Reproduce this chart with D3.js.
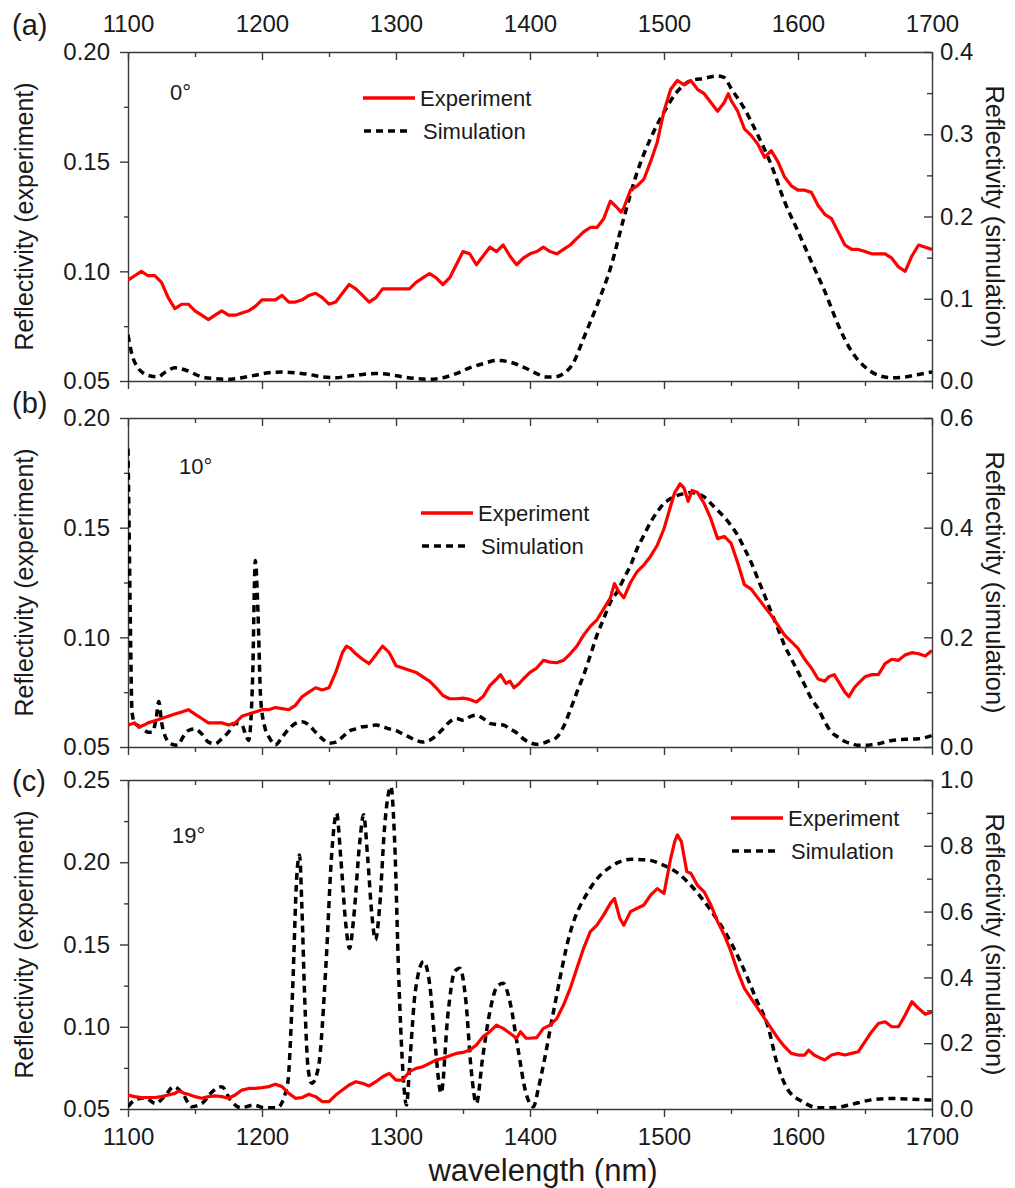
<!DOCTYPE html>
<html>
<head>
<meta charset="utf-8">
<script src="https://cdn.jsdelivr.net/npm/d3@7/dist/d3.min.js"></script>
<style>
  body { margin: 0; background: #fff; }
  text { font-family: "Liberation Sans", Arial, sans-serif; fill: #1a1a1a; }
</style>
</head>
<body>
<svg id="chart" width="1015" height="1188"></svg>
<script>
// ---- data ----
const xTicks = [1100, 1200, 1300, 1400, 1500, 1600, 1700];
const angleLabels = ["0°", "10°", "19°"];
const panelLetters = ["(a)", "(b)", "(c)"];
const seriesNames = ["Experiment", "Simulation"];

const leftTicksA = [0.05, 0.10, 0.15, 0.20];
const rightTicksA = [0.0, 0.1, 0.2, 0.3, 0.4];
const leftTicksB = [0.05, 0.10, 0.15, 0.20];
const rightTicksB = [0.0, 0.2, 0.4, 0.6];
const leftTicksC = [0.05, 0.10, 0.15, 0.20, 0.25];
const rightTicksC = [0.0, 0.2, 0.4, 0.6, 0.8, 1.0];

// [wavelength nm, reflectivity]
const expA = [[1100,0.096],[1105,0.098],[1110,0.100],[1115,0.098],[1120,0.098],[1125,0.095],[1130,0.088],[1135,0.083],[1140,0.085],[1145,0.085],
  [1150,0.082],[1155,0.080],[1160,0.078],[1165,0.080],[1170,0.082],[1175,0.080],[1180,0.080],[1185,0.081],[1190,0.082],[1195,0.084],
  [1200,0.087],[1205,0.087],[1210,0.087],[1215,0.089],[1220,0.086],[1225,0.086],[1230,0.087],[1235,0.089],[1240,0.090],[1245,0.088],
  [1250,0.085],[1255,0.086],[1260,0.090],[1265,0.094],[1270,0.092],[1275,0.089],[1280,0.086],[1285,0.088],[1290,0.092],[1295,0.092],
  [1300,0.092],[1305,0.092],[1310,0.092],[1315,0.095],[1320,0.097],[1325,0.099],[1330,0.097],[1335,0.094],[1340,0.097],[1345,0.103],
  [1350,0.109],[1355,0.108],[1360,0.103],[1365,0.107],[1370,0.111],[1375,0.109],[1380,0.112],[1385,0.107],[1390,0.103],[1395,0.106],
  [1400,0.108],[1405,0.109],[1410,0.111],[1415,0.109],[1420,0.108],[1425,0.110],[1430,0.112],[1435,0.115],[1440,0.118],[1445,0.120],
  [1450,0.120],[1455,0.124],[1460,0.132],[1465,0.129],[1468,0.127],[1470,0.129],[1475,0.137],[1480,0.139],[1485,0.142],[1490,0.150],
  [1495,0.159],[1500,0.173],[1505,0.183],[1510,0.187],[1515,0.185],[1520,0.187],[1525,0.183],[1530,0.181],[1535,0.177],[1540,0.173],
  [1545,0.177],[1548,0.181],[1550,0.178],[1555,0.173],[1560,0.165],[1565,0.162],[1570,0.158],[1575,0.152],[1580,0.155],[1585,0.150],
  [1590,0.143],[1595,0.139],[1600,0.137],[1605,0.137],[1610,0.136],[1615,0.130],[1620,0.126],[1625,0.124],[1630,0.118],[1635,0.112],
  [1640,0.110],[1645,0.110],[1650,0.109],[1655,0.108],[1660,0.108],[1665,0.108],[1670,0.106],[1675,0.102],[1680,0.100],[1685,0.107],
  [1690,0.112],[1695,0.111],[1700,0.110]];

const simA = [[1100,0.056],[1103,0.032],[1107,0.017],[1112,0.009],[1117,0.006],[1122,0.005],[1128,0.011],[1135,0.016],[1145,0.012],[1155,0.005],
  [1165,0.003],[1175,0.002],[1185,0.004],[1195,0.007],[1205,0.010],[1215,0.011],[1225,0.010],[1235,0.008],[1245,0.005],[1255,0.004],
  [1265,0.006],[1275,0.008],[1285,0.009],[1295,0.008],[1305,0.005],[1315,0.003],[1325,0.002],[1335,0.004],[1345,0.009],[1355,0.016],
  [1365,0.021],[1375,0.025],[1385,0.023],[1395,0.017],[1405,0.009],[1412,0.005],[1418,0.005],[1425,0.009],[1432,0.021],[1440,0.052],
  [1450,0.092],[1460,0.137],[1470,0.198],[1480,0.254],[1490,0.295],[1500,0.327],[1510,0.352],[1520,0.365],[1530,0.368],[1540,0.371],
  [1545,0.369],[1550,0.356],[1560,0.331],[1570,0.299],[1580,0.263],[1590,0.218],[1600,0.182],[1610,0.145],[1620,0.109],[1630,0.068],
  [1640,0.036],[1650,0.017],[1660,0.007],[1670,0.004],[1680,0.005],[1690,0.008],[1700,0.011]];

const expB = [[1100,0.060],[1105,0.061],[1108,0.059],[1112,0.060],[1115,0.061],[1120,0.062],[1125,0.063],[1130,0.064],[1135,0.065],[1140,0.066],
  [1145,0.067],[1150,0.065],[1155,0.063],[1160,0.061],[1165,0.061],[1170,0.061],[1175,0.060],[1180,0.061],[1185,0.064],[1190,0.065],
  [1195,0.066],[1200,0.067],[1205,0.067],[1210,0.068],[1215,0.0675],[1220,0.067],[1225,0.069],[1230,0.073],[1235,0.075],[1240,0.077],
  [1245,0.076],[1250,0.077],[1255,0.084],[1260,0.093],[1263,0.096],[1266,0.095],[1270,0.0925],[1275,0.090],[1280,0.088],[1285,0.092],
  [1290,0.096],[1295,0.093],[1300,0.087],[1305,0.086],[1310,0.085],[1315,0.084],[1320,0.082],[1325,0.080],[1330,0.077],[1335,0.0735],
  [1340,0.072],[1345,0.072],[1350,0.0723],[1355,0.0717],[1360,0.0705],[1365,0.073],[1370,0.078],[1375,0.081],[1378,0.083],[1382,0.079],
  [1385,0.080],[1388,0.077],[1392,0.079],[1395,0.081],[1400,0.084],[1405,0.086],[1410,0.0895],[1415,0.0887],[1420,0.0884],[1425,0.0895],
  [1430,0.0925],[1435,0.096],[1440,0.101],[1445,0.105],[1450,0.108],[1455,0.113],[1460,0.118],[1463,0.1245],[1466,0.121],[1470,0.118],
  [1475,0.125],[1480,0.130],[1485,0.133],[1490,0.137],[1495,0.142],[1500,0.1495],[1505,0.160],[1508,0.166],[1512,0.170],[1515,0.168],
  [1518,0.162],[1521,0.167],[1525,0.166],[1530,0.161],[1535,0.154],[1540,0.145],[1545,0.146],[1550,0.143],[1555,0.134],[1560,0.124],
  [1565,0.122],[1570,0.118],[1575,0.114],[1580,0.110],[1585,0.1055],[1590,0.101],[1595,0.098],[1600,0.095],[1605,0.090],[1610,0.086],
  [1615,0.081],[1620,0.080],[1623,0.082],[1627,0.083],[1630,0.080],[1635,0.075],[1638,0.073],[1642,0.077],[1645,0.079],[1650,0.082],
  [1655,0.083],[1660,0.083],[1665,0.088],[1670,0.090],[1675,0.0895],[1680,0.092],[1685,0.093],[1690,0.0925],[1695,0.0915],[1700,0.094]];

const simB = [[1100,0.544],[1101,0.368],[1102,0.185],[1103,0.064],[1105,0.043],[1110,0.036],[1115,0.027],[1118,0.027],[1121,0.052],[1123,0.083],
  [1125,0.046],[1128,0.018],[1132,0.006],[1137,0.003],[1141,0.018],[1145,0.030],[1150,0.033],[1155,0.024],[1160,0.009],[1165,0.006],
  [1170,0.015],[1175,0.027],[1180,0.043],[1185,0.040],[1188,0.021],[1190,0.012],[1193,0.125],[1195,0.340],[1197,0.246],[1199,0.088],
  [1202,0.037],[1206,0.015],[1210,0.004],[1215,0.018],[1220,0.033],[1225,0.043],[1230,0.046],[1235,0.040],[1240,0.027],[1245,0.015],
  [1250,0.007],[1255,0.009],[1260,0.018],[1265,0.029],[1270,0.033],[1275,0.037],[1280,0.038],[1285,0.040],[1290,0.037],[1295,0.033],
  [1300,0.030],[1305,0.024],[1310,0.018],[1315,0.012],[1320,0.009],[1325,0.012],[1330,0.021],[1335,0.033],[1340,0.046],[1345,0.052],
  [1350,0.049],[1355,0.055],[1360,0.058],[1365,0.052],[1370,0.043],[1375,0.041],[1380,0.040],[1385,0.033],[1390,0.026],[1395,0.015],
  [1400,0.008],[1405,0.005],[1410,0.007],[1415,0.012],[1420,0.018],[1425,0.037],[1430,0.067],[1435,0.100],[1440,0.131],[1445,0.167],
  [1450,0.204],[1455,0.234],[1460,0.264],[1465,0.283],[1470,0.307],[1475,0.331],[1480,0.362],[1485,0.386],[1490,0.410],[1495,0.429],
  [1500,0.444],[1505,0.453],[1510,0.459],[1515,0.462],[1520,0.464],[1525,0.462],[1530,0.456],[1535,0.444],[1540,0.432],[1545,0.419],
  [1550,0.404],[1555,0.386],[1560,0.362],[1565,0.337],[1570,0.307],[1575,0.277],[1580,0.246],[1585,0.216],[1590,0.185],[1595,0.161],
  [1600,0.137],[1605,0.113],[1610,0.088],[1615,0.070],[1620,0.046],[1625,0.027],[1630,0.018],[1635,0.010],[1640,0.006],[1645,0.003],
  [1650,0.003],[1655,0.004],[1660,0.006],[1665,0.009],[1670,0.012],[1680,0.014],[1690,0.015],[1700,0.021]];

const expC = [[1100,0.0585],[1105,0.0575],[1110,0.057],[1115,0.057],[1120,0.057],[1125,0.0575],[1130,0.0585],[1135,0.0595],[1138,0.061],[1142,0.0595],
  [1145,0.059],[1150,0.0575],[1155,0.0565],[1160,0.0575],[1165,0.058],[1170,0.0575],[1175,0.0565],[1180,0.0585],[1185,0.0615],[1190,0.0625],
  [1195,0.0625],[1200,0.063],[1205,0.0636],[1210,0.065],[1215,0.0636],[1220,0.0595],[1225,0.0565],[1230,0.057],[1235,0.059],[1240,0.0575],
  [1245,0.0545],[1250,0.0545],[1255,0.0585],[1260,0.0615],[1265,0.0646],[1270,0.0666],[1275,0.0656],[1280,0.064],[1285,0.0666],[1290,0.0696],
  [1295,0.0717],[1300,0.0676],[1305,0.0676],[1310,0.0727],[1315,0.0747],[1320,0.0757],[1325,0.0777],[1330,0.0798],[1335,0.0808],[1340,0.0824],
  [1345,0.0838],[1350,0.0844],[1355,0.0858],[1360,0.0889],[1365,0.094],[1370,0.097],[1375,0.101],[1380,0.099],[1385,0.096],[1390,0.093],
  [1393,0.097],[1397,0.093],[1400,0.093],[1405,0.0934],[1410,0.099],[1415,0.101],[1420,0.105],[1425,0.1132],[1430,0.1233],[1435,0.1355],
  [1440,0.1477],[1445,0.1578],[1450,0.1618],[1455,0.168],[1460,0.175],[1463,0.178],[1467,0.166],[1470,0.1618],[1475,0.170],[1480,0.172],
  [1485,0.174],[1490,0.180],[1495,0.184],[1500,0.181],[1505,0.2024],[1508,0.2125],[1510,0.2166],[1513,0.2125],[1517,0.1943],[1520,0.1933],
  [1525,0.186],[1530,0.182],[1535,0.174],[1540,0.1639],[1545,0.1558],[1550,0.1456],[1555,0.1335],[1560,0.1233],[1565,0.1173],[1570,0.1112],
  [1575,0.1051],[1580,0.099],[1585,0.093],[1590,0.0879],[1595,0.0838],[1600,0.0828],[1605,0.0828],[1608,0.0858],[1612,0.0828],[1617,0.0808],
  [1620,0.0798],[1625,0.0828],[1630,0.0838],[1635,0.0828],[1640,0.0838],[1645,0.0848],[1650,0.0909],[1655,0.097],[1660,0.102],[1665,0.103],
  [1670,0.100],[1675,0.100],[1680,0.1071],[1685,0.1152],[1690,0.1112],[1695,0.1076],[1700,0.109]];

const simC = [[1100,0.007],[1105,0.027],[1112.7,0.034],[1120.5,0.017],[1128.2,0.043],[1134,0.068],[1140.6,0.048],[1147.5,0.007],[1155.2,0.017],[1163,0.053],
  [1170,0.068],[1176.5,0.027],[1184.2,0.004],[1193.9,0.012],[1201.6,0.004],[1211.3,0.004],[1219,0.073],[1222.8,0.357],[1226,0.711],[1228,0.772],
  [1229.8,0.61],[1231.7,0.357],[1234.4,0.124],[1237.1,0.078],[1242,0.124],[1248,0.458],[1251.8,0.762],[1255.7,0.899],[1258.8,0.762],[1262.6,0.559],
  [1265.3,0.488],[1268.4,0.58],[1273,0.813],[1275.8,0.894],[1278.9,0.762],[1282,0.59],[1284.7,0.514],[1287.7,0.61],[1291.6,0.863],[1296.2,0.98],
  [1299,0.813],[1302,0.407],[1305,0.124],[1307.8,0.012],[1310.5,0.154],[1314.4,0.357],[1320.6,0.448],[1325.2,0.377],[1329,0.205],[1333.7,0.048],
  [1338.7,0.286],[1343.7,0.417],[1347.6,0.428],[1352.2,0.326],[1356,0.124],[1360,0.017],[1364.6,0.154],[1369.6,0.286],[1375.4,0.372],[1380,0.382],
  [1385,0.326],[1391,0.184],[1396.7,0.053],[1402.5,0.007],[1406.3,0.063],[1410,0.134],[1418,0.306],[1429.5,0.529],[1445,0.671],[1460.4,0.737],
  [1475.9,0.759],[1487.5,0.757],[1499,0.742],[1510.6,0.716],[1522,0.671],[1533.8,0.61],[1545.4,0.539],[1557,0.448],[1568.6,0.336],[1578,0.245],
  [1584,0.144],[1591.8,0.063],[1603.4,0.022],[1615,0.004],[1626.5,0.004],[1638,0.012],[1653.6,0.027],[1669,0.032],[1684.5,0.030],[1700,0.027]];

// ---- layout ----
const width = 1015, height = 1188;
const plotLeft = 128, plotRight = 932;
const frames = [
  { top: 52, bottom: 381, letterY: 35, angleX: 170, angleY: 100, legX: 363, legY: 98 },
  { top: 418, bottom: 747, letterY: 413, angleX: 179, angleY: 474, legX: 421, legY: 513 },
  { top: 780, bottom: 1109, letterY: 791, angleX: 172, angleY: 843, legX: 731, legY: 818 }
];
const panels = [
  { exp: expA, sim: simA, left: leftTicksA, right: rightTicksA, leftMinor: 0.025, rightMinor: 0.05 },
  { exp: expB, sim: simB, left: leftTicksB, right: rightTicksB, leftMinor: 0.025, rightMinor: 0.1 },
  { exp: expC, sim: simC, left: leftTicksC, right: rightTicksC, leftMinor: 0.025, rightMinor: 0.1 }
];

const axisColor = "#3a3a3a";
const tickFont = 24;

const svg = d3.select("#chart");

const x = d3.scaleLinear()
  .domain([d3.min(xTicks), d3.max(xTicks)])
  .range([plotLeft, plotRight]);

const xMinor = d3.range(1150, 1700, 100);

function styleAxis(g) {
  g.selectAll("path").attr("stroke", axisColor).attr("stroke-width", 1.4);
  g.selectAll("line").attr("stroke", axisColor).attr("stroke-width", 1.4);
  g.selectAll("text").attr("font-size", tickFont).attr("fill", "#1a1a1a")
    .attr("font-family", '"Liberation Sans", Arial, sans-serif');
}

function minorTicks(lo, hi, step, majors) {
  const out = [];
  for (let v = lo; v <= hi + 1e-9; v += step) {
    const r = Math.round(v * 1000) / 1000;
    if (!majors.some(m => Math.abs(m - r) < 1e-6)) out.push(r);
  }
  return out;
}

panels.forEach((p, i) => {
  const f = frames[i];
  const yL = d3.scaleLinear().domain([d3.min(p.left), d3.max(p.left)]).range([f.bottom, f.top]);
  const yR = d3.scaleLinear().domain([d3.min(p.right), d3.max(p.right)]).range([f.bottom, f.top]);

  const g = svg.append("g");

  // clip
  const clipId = "clip" + i;
  svg.append("clipPath").attr("id", clipId)
    .append("rect").attr("x", plotLeft).attr("y", f.top)
    .attr("width", plotRight - plotLeft).attr("height", f.bottom - f.top);

  // 1 bottom axis (ticks pointing down)
  const bottomAxis = d3.axisBottom(x).tickValues(xTicks).tickSizeInner(8).tickSizeOuter(0).tickPadding(11)
    .tickFormat(i === 2 ? d3.format("d") : "");
  g.append("g").attr("transform", `translate(0,${f.bottom})`).call(bottomAxis).call(styleAxis);
  g.append("g").attr("transform", `translate(0,${f.bottom})`)
    .call(d3.axisBottom(x).tickValues(xMinor).tickSize(5).tickFormat(""))
    .call(styleAxis).select(".domain").remove();

  // 2 top axis (ticks pointing into the plot)
  const topAxis = d3.axisTop(x).tickValues(xTicks).tickSizeInner(-8).tickSizeOuter(0).tickPadding(20)
    .tickFormat(i === 0 ? d3.format("d") : "");
  g.append("g").attr("transform", `translate(0,${f.top})`).call(topAxis).call(styleAxis);
  g.append("g").attr("transform", `translate(0,${f.top})`)
    .call(d3.axisTop(x).tickValues(xMinor).tickSize(-5).tickFormat(""))
    .call(styleAxis).select(".domain").remove();

  // 3 left axis
  g.append("g").attr("transform", `translate(${plotLeft},0)`)
    .call(d3.axisLeft(yL).tickValues(p.left).tickSizeInner(8).tickSizeOuter(0).tickPadding(10).tickFormat(d3.format(".2f")))
    .call(styleAxis);
  g.append("g").attr("transform", `translate(${plotLeft},0)`)
    .call(d3.axisLeft(yL).tickValues(minorTicks(d3.min(p.left), d3.max(p.left), p.leftMinor, p.left)).tickSize(4).tickFormat(""))
    .call(styleAxis).select(".domain").remove();

  // 4 right axis (ticks pointing into the plot)
  g.append("g").attr("transform", `translate(${plotRight},0)`)
    .call(d3.axisRight(yR).tickValues(p.right).tickSizeInner(-8).tickSizeOuter(0).tickPadding(8).tickFormat(d3.format(".1f")))
    .call(styleAxis);
  g.append("g").attr("transform", `translate(${plotRight},0)`)
    .call(d3.axisRight(yR).tickValues(minorTicks(d3.min(p.right), d3.max(p.right), p.rightMinor, p.right)).tickSize(-5).tickFormat(""))
    .call(styleAxis).select(".domain").remove();

  // 5 lines
  const simLine = d3.line().x(d => x(d[0])).y(d => yR(d[1])).curve(d3.curveMonotoneX);
  const expLine = d3.line().x(d => x(d[0])).y(d => yL(d[1]));

  g.append("path").datum(p.sim).attr("clip-path", `url(#${clipId})`)
    .attr("d", simLine).attr("fill", "none").attr("stroke", "#000")
    .attr("stroke-width", 3.5).attr("stroke-dasharray", "7,5");
  g.append("path").datum(p.exp).attr("clip-path", `url(#${clipId})`)
    .attr("d", expLine).attr("fill", "none").attr("stroke", "#ff0000")
    .attr("stroke-width", 3.2).attr("stroke-linejoin", "round");

  // 6 axis titles
  const cy = (f.top + f.bottom) / 2;
  g.append("text").attr("transform", `translate(33,${cy}) rotate(-90)`)
    .attr("text-anchor", "middle").attr("font-size", 25).text("Reflectivity (experiment)");
  g.append("text").attr("transform", `translate(986,${cy}) rotate(90)`)
    .attr("text-anchor", "middle").attr("font-size", 25.5).text("Reflectivity (simulation)");

  // 7 panel letter and angle
  g.append("text").attr("x", 12).attr("y", f.letterY)
    .attr("font-family", '"Liberation Serif", "Times New Roman", serif')
    .attr("font-size", 29).text(panelLetters[i]);
  g.append("text").attr("x", f.angleX).attr("y", f.angleY).attr("font-size", 22).text(angleLabels[i]);

  // 8 legend
  const lg = g.append("g").attr("transform", `translate(${f.legX},${f.legY})`);
  lg.append("line").attr("x1", 0).attr("x2", 52).attr("y1", 0).attr("y2", 0)
    .attr("stroke", "#ff0000").attr("stroke-width", 3.5);
  lg.append("text").attr("x", 57).attr("y", 8).attr("font-size", 22).text(seriesNames[0]);
  lg.append("line").attr("x1", 1).attr("x2", 48).attr("y1", 33).attr("y2", 33)
    .attr("stroke", "#000").attr("stroke-width", 3.5).attr("stroke-dasharray", "7,5");
  lg.append("text").attr("x", 60).attr("y", 41).attr("font-size", 22).text(seriesNames[1]);
});

// x axis title
svg.append("text").attr("x", 543).attr("y", 1181).attr("text-anchor", "middle")
  .attr("font-size", 31).text("wavelength (nm)");
</script>
</body>
</html>
